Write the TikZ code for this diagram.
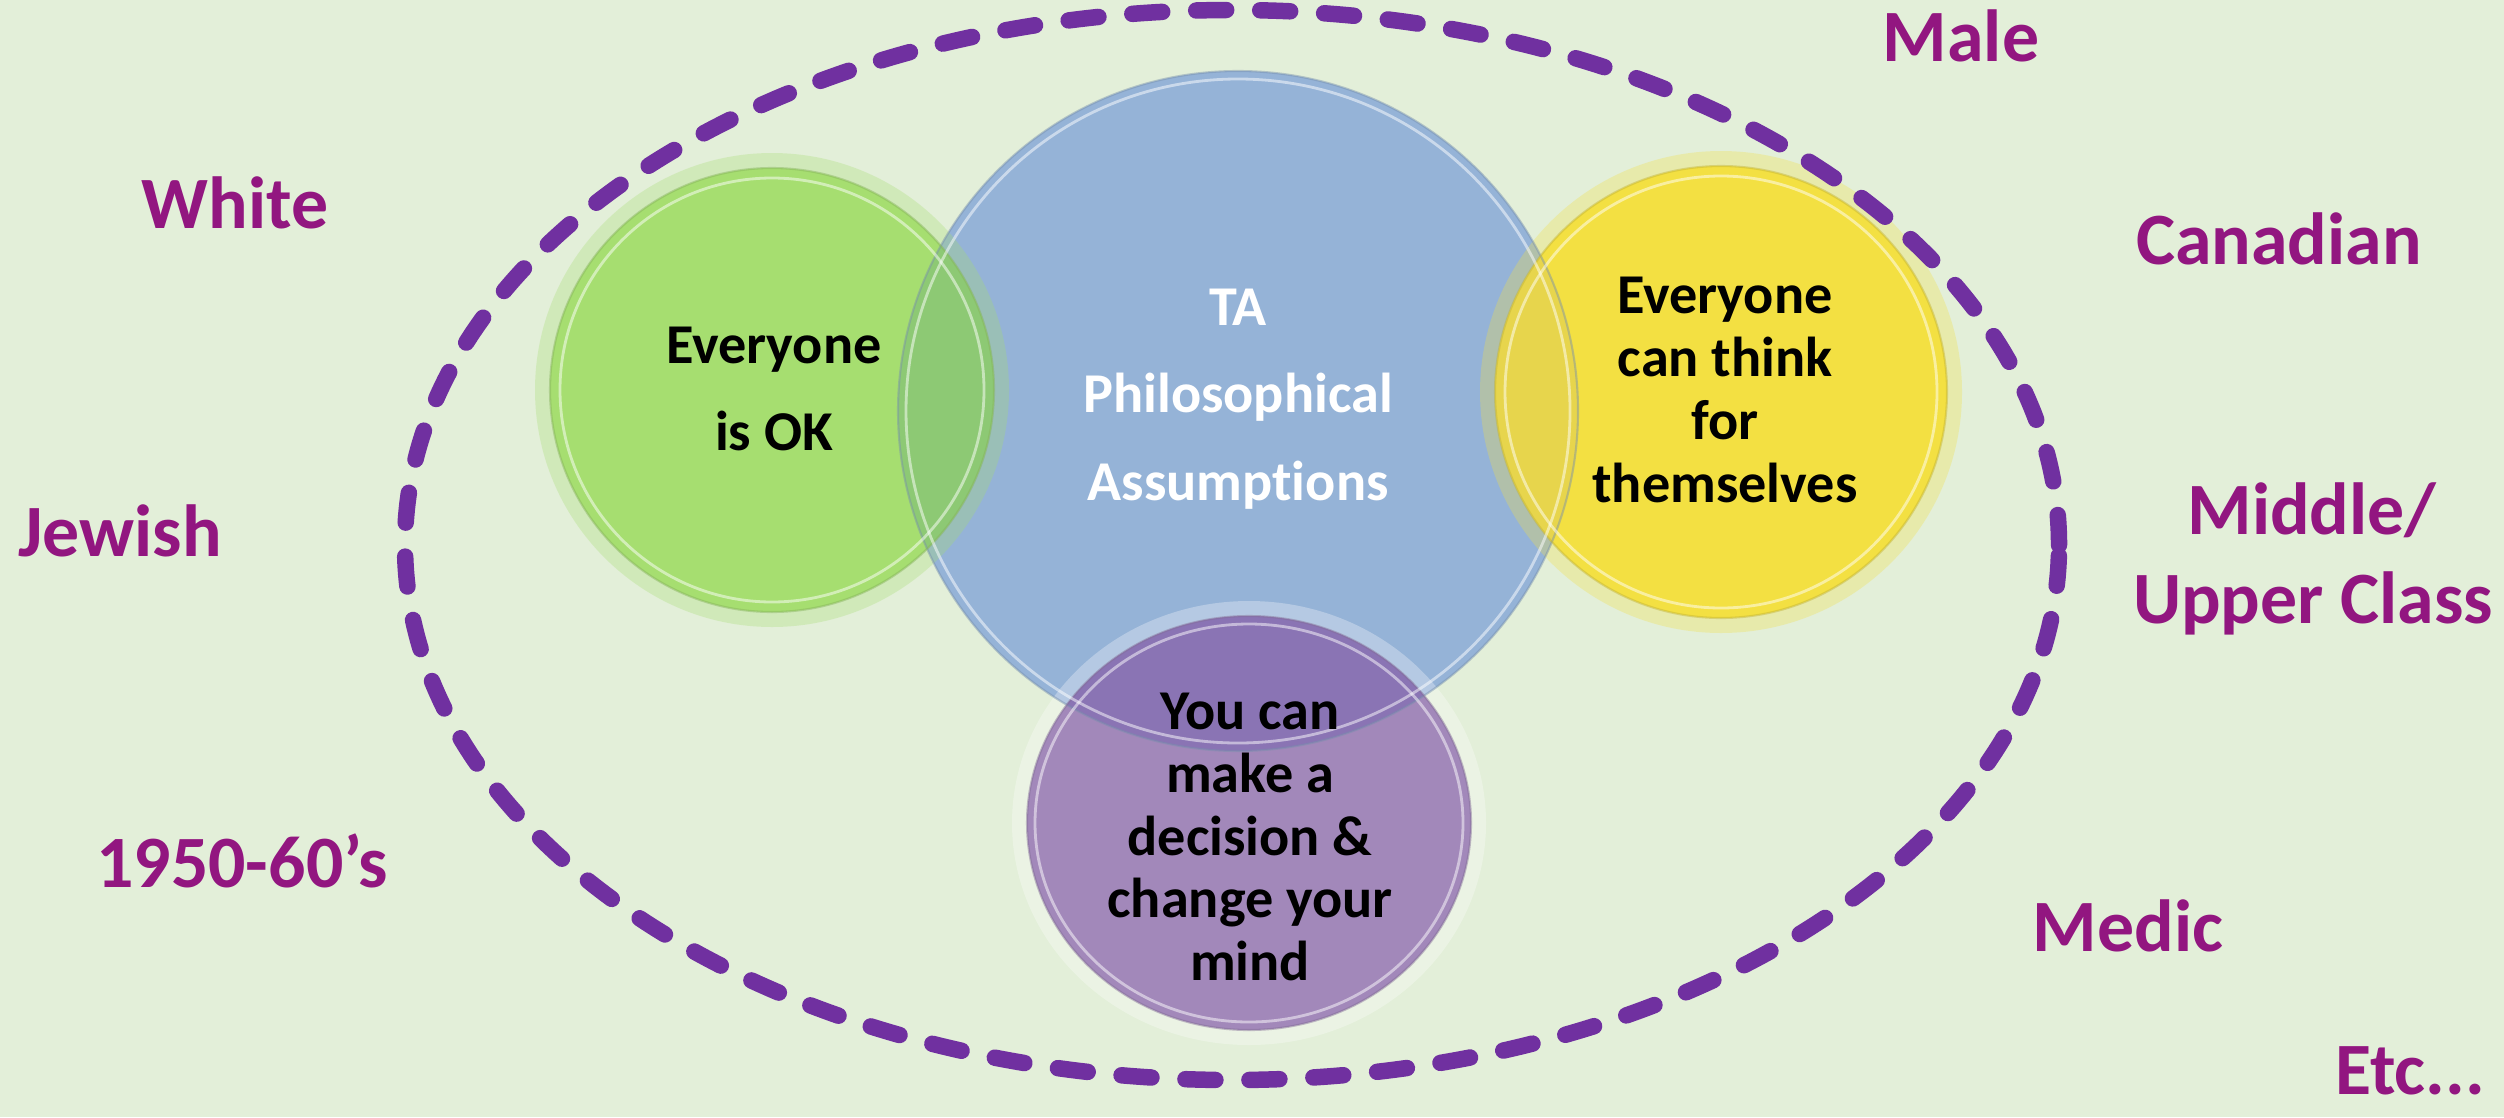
\documentclass[tikz,border=0pt]{standalone}
\usepackage{fontspec}
\setmainfont{Carlito}[Ligatures=NoCommon]
\usetikzlibrary{shapes.geometric,positioning}

\definecolor{bgcol}{RGB}{227,239,217}
\definecolor{dashcol}{RGB}{112,48,160}
\definecolor{labelcol}{RGB}{146,22,128}
\definecolor{tablue}{RGB}{149,179,215}
\definecolor{okgreen}{RGB}{166,222,112}
\definecolor{thinkyellow}{RGB}{243,224,66}
\definecolor{mindpurple}{RGB}{162,136,186}
\definecolor{gbmix}{RGB}{141,201,116}
\definecolor{ybmix}{RGB}{231,213,76}
\definecolor{pbmix}{RGB}{138,116,180}

\tikzset{
  bubble/.style={fill=#1, inner sep=0pt},
  glow/.style={preaction={draw=#1, line width=3mm, opacity=.3}},
  rim/.style={draw=#1!80!black, line width=0.6pt, opacity=.45},
  ring/.style={draw=white, line width=0.8pt, opacity=.5},
  saying/.style={font=\bfseries\fontsize{16}{17.9}\selectfont, align=center},
  title/.style={font=\bfseries\fontsize{16}{24.9}\selectfont, align=center},
  tag/.style={font=\bfseries\fontsize{21}{25.3}\selectfont, text=labelcol,
    align=center, anchor=base, inner sep=0pt},
  frame/.style={draw=dashcol, line width=0.165cm, line cap=round,
    dash pattern=on 0.30cm off 0.34cm},
}

\begin{document}
\begin{tikzpicture}
  \fill[bgcol] (0,0) rectangle (25.04,-11.17);
  \useasboundingbox (0,0) rectangle (25.04,-11.17);

  % the four bubbles
  \node[bubble=tablue,     circle,  minimum size=6.80cm]            (ta)    at (12.38,-4.11) {};
  \node[bubble=okgreen,    circle,  minimum size=4.44cm, glow=okgreen]     (ok)    at (7.72,-3.90)  {};
  \node[bubble=thinkyellow,circle,  minimum size=4.52cm, glow=thinkyellow] (think) at (17.21,-3.92) {};
  \node[bubble=mindpurple, ellipse, minimum width=4.44cm,
        minimum height=4.14cm, glow=white]                         (mind)  at (12.49,-8.23) {};

  % where they lie over the blue one
  \begin{scope}
    \clip (ta.center) circle (3.40);
    \fill[gbmix] (ok.center)    circle (2.22);
    \fill[ybmix] (think.center) circle (2.26);
    \fill[pbmix] (mind.center)  ellipse (2.22 and 2.07);
  \end{scope}

  \draw[rim=tablue]      (ta.center)    circle (3.40);
  \draw[rim=okgreen]     (ok.center)    circle (2.22);
  \draw[rim=thinkyellow] (think.center) circle (2.26);
  \draw[rim=mindpurple]  (mind.center)  ellipse (2.22 and 2.07);
  \draw[ring] (ok.center)    circle (2.12);
  \draw[ring] (think.center) circle (2.16);
  \draw[ring] (mind.center)  ellipse (2.14 and 1.99);
  \draw[ring] (ta.center)    circle (3.32);

  \node[title, text=white] (tatext)    at (12.38,-3.99) {TA\\Philosophical\\Assumptions};
  \node[title]             (oktext)    at (7.74,-3.89)  {Everyone\\is OK};
  \node[saying]            (thinktext) at (17.25,-3.90) {Everyone\\can think\\for\\themselves};
  \node[saying]            (mindtext)  at (12.50,-8.37) {You can\\make a\\decision \&\\change your\\mind};

  % the dashed outline
  \draw[frame] (12.32,-5.45) ellipse (8.27 and 5.35);

  % labels round the outside
  \node[tag] (white)  at (2.35,-2.28)   {White};
  \node[tag] (jewish) at (1.20,-5.56)   {Jewish};
  \node[tag] (years)  at (2.42,-8.87)   {1950-60’s};
  \node[tag] (male)   at (19.61,-0.61)  {Male};
  \node[tag] (canada) at (22.79,-2.64)  {Canadian};
  \node[tag] (middle) at (23.12,-5.34)  {Middle/};
  \node[tag] (upper)  at (23.13,-6.23)  {Upper Class};
  \node[tag] (medic)  at (21.28,-9.51)  {Medic};
  \node[tag] (etc)    at (24.10,-10.94) {Etc...};
\end{tikzpicture}
\end{document}
